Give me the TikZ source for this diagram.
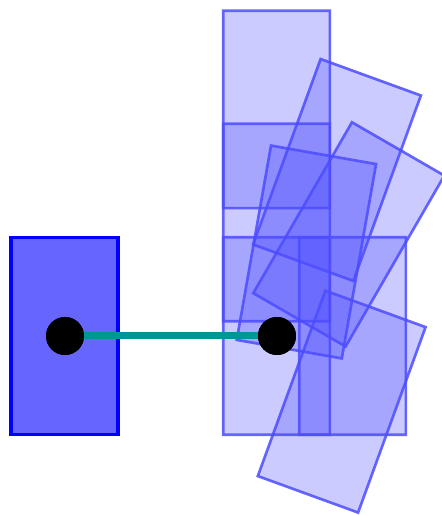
\documentclass[tikz,border=0pt]{standalone}
\usepackage{xcolor}
\usepackage{tikz}
\definecolor{linkteal}{RGB}{0,150,148}
\tikzset{
  body/.style={draw=blue, line width=0.1cm, fill=blue!60,
    minimum width=3.2cm, minimum height=5.92cm, inner sep=0pt},
  ghost/.style={draw=blue, draw opacity=0.85, fill=blue, fill opacity=0.29,
    line width=0.08cm, minimum width=3.2cm, minimum height=5.92cm, inner sep=0pt},
  pin/.style={circle, fill=black, minimum size=1.14cm, inner sep=0pt}
}
\begin{document}
\begin{tikzpicture}[x=0.03cm, y=0.03cm]
        \useasboundingbox (0,0) rectangle (441,515);
        % Original body
        \node[body] (base) at (64.5,179) {};
        % Transformed copies
        \begin{scope}[transparency group, opacity=0.7]
        \node[ghost] (copyA) at (276.5,179) {};
        \node[ghost] (copyB) at (352.5,179) {};
        \node[ghost] (copyC) at (276.5,292.5) {};
        \node[ghost] (copyD) at (276.5,405.5) {};
        \node[ghost, rotate=-20] (copyE) at (337,345) {};
        \node[ghost, rotate=-30] (copyF) at (348.8,280.6) {};
        \node[ghost, rotate=-10] (copyG) at (306.4,263) {};
        \node[ghost, rotate=-20] (copyH) at (341.7,113.4) {};
        \end{scope}
        % Link between the two pins
        \node[pin] (pinL) at (65,179) {};
        \node[pin] (pinR) at (277,179) {};
        \draw[linkteal, line width=0.21cm] (pinL) -- (pinR);
        \node[pin] at (pinL) {};
        \node[pin] at (pinR) {};
\end{tikzpicture}
\end{document}
